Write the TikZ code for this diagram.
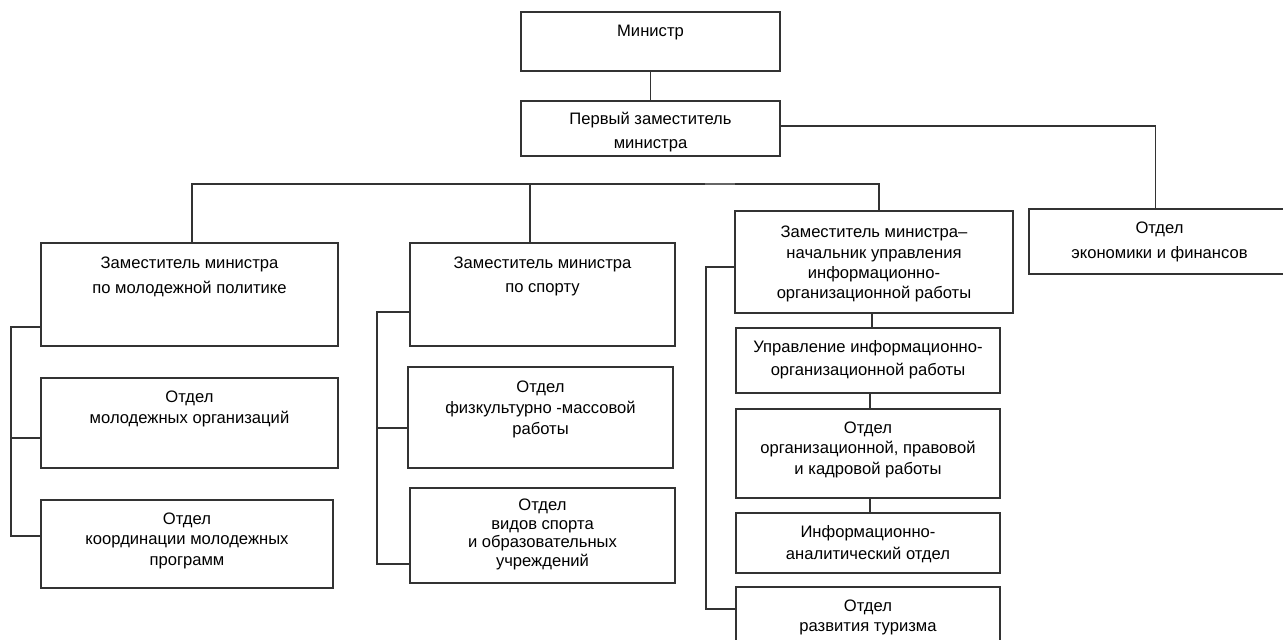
\documentclass[tikz,border=0pt]{standalone}
\usepackage{fontspec}
\setmainfont{Liberation Sans}
\tikzset{
  box/.style={draw=black!80, line width=1.3pt, inner sep=0pt, outer sep=0pt},
  wire/.style={draw=black!80, line width=1.3pt},
  lbl/.style={font=\fontsize{16.6}{#1}\selectfont, align=center, anchor=north, inner sep=0pt},
  lbl/.default=22,
}
\newcommand\bx[5]{\node[box, minimum width={(#4-#2)*1pt}, minimum height={(#5-#3)*1pt}] (#1) at ({(#2+#4)/2},{(#3+#5)/2}) {};}
\begin{document}
\begin{tikzpicture}[x=1pt, y=-1pt]
\useasboundingbox (0,0) rectangle (1283,640);
% boxes
\bx{min}{521}{12}{780}{71}
\bx{first}{521}{101}{780}{156}
\bx{econ}{1029}{209}{1290}{274}
\bx{d1}{41}{243}{338}{346}
\bx{d1b}{41}{378}{338}{468}
\bx{d1c}{41}{500}{333}{588}
\bx{d2}{410}{243}{675}{346}
\bx{d2b}{408}{367}{673}{468}
\bx{d2c}{410}{488}{675}{583}
\bx{d3}{735}{211}{1013}{313}
\bx{d3b}{736}{328}{1000}{393}
\bx{d3c}{736}{409}{1000}{498}
\bx{d3d}{736}{513}{1000}{573}
\bx{d3e}{736}{587}{1000}{650}
% texts
\node[lbl=22] (tmin) at (min.north |- 0,25) {Министр};
\node[lbl=24] (tfirst) at (first.north |- 0,112) {Первый заместитель\\министра};
\node[lbl=25] (tecon) at (econ.north |- 0,221.5) {Отдел\\экономики и финансов};
\node[lbl=25] (td1) at (d1.north |- 0,256.5) {Заместитель министра\\по молодежной политике};
\node[lbl=21] (td1b) at (d1b.north |- 0,390.5) {Отдел\\молодежных организаций};
\node[lbl=20.5] (td1c) at (d1c.north |- 0,512.5) {Отдел\\координации молодежных\\программ};
\node[lbl=24.5] (td2) at (d2.north |- 0,256.5) {Заместитель министра\\по спорту};
\node[lbl=21] (td2b) at (d2b.north |- 0,380.5) {Отдел\\физкультурно -массовой\\работы};
\node[lbl=18.5] (td2c) at (d2c.north |- 0,499) {Отдел\\видов спорта\\и образовательных\\учреждений};
\node[lbl=20.3] (td3) at (d3.north |- 0,226) {Заместитель министра–\\начальник управления\\информационно-\\организационной работы};
\node[lbl=23] (td3b) at (d3b.north |- 0,340) {Управление информационно-\\организационной работы};
\node[lbl=20.5] (td3c) at (d3c.north |- 0,421.5) {Отдел\\организационной, правовой\\и кадровой работы};
\node[lbl=22] (td3d) at (d3d.north |- 0,525.5) {Информационно-\\аналитический отдел};
\node[lbl=20] (td3e) at (d3e.north |- 0,599.5) {Отдел\\развития туризма};
% connectors
\coordinate (bus) at (0,184);
\coordinate (b1) at (192,184);
\coordinate (b2) at (530,184);
\coordinate (b3) at (879,184);
\draw[wire] (min.south) -- (first.north);
\draw[wire] (first.east |- 0,126) -| ([xshift=-4pt]econ.north);
\draw[wire] (d1.north -| b1) -- (b1) -- (b3) -- (d3.north -| b3);
\draw[wire] (b2) -- (d2.north -| b2);
\draw[line width=2.2pt, black!60] (705,184) -- (735,184);
% left bracket
\coordinate (L1) at (11,327);
\coordinate (L2) at (11,438);
\coordinate (L3) at (11,536);
\draw[wire] (d1.west |- L1) -- (L1) -- (L3) -- (d1c.west |- L3);
\draw[wire] (L2) -- (d1b.west |- L2);
% middle bracket
\coordinate (M1) at (377,312);
\coordinate (M2) at (377,428);
\coordinate (M3) at (377,564);
\draw[wire] (d2.west |- M1) -- (M1) -- (M3) -- (d2c.west |- M3);
\draw[wire] (M2) -- (d2b.west |- M2);
% right bracket
\coordinate (R1) at (706,267);
\coordinate (R2) at (706,609);
\draw[wire] (d3.west |- R1) -- (R1) -- (R2) -- (d3e.west |- R2);
\draw[wire] (d3.south -| 872,0) -- (d3b.north -| 872,0);
\draw[wire] (d3b.south -| 870,0) -- (d3c.north -| 870,0);
\draw[wire] (d3c.south -| 870,0) -- (d3d.north -| 870,0);
\end{tikzpicture}
\end{document}
